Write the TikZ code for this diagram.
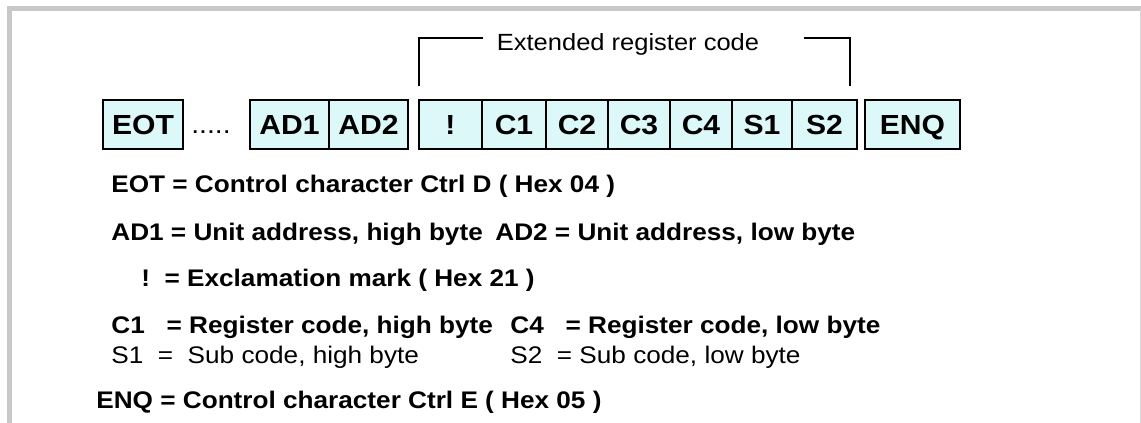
\documentclass[tikz,border=0pt]{standalone}
\usepackage{fontspec}
\setmainfont{Liberation Sans}[FakeStretch=1.09]
\definecolor{cellfill}{RGB}{220,248,248}
\definecolor{framegray}{RGB}{200,200,200}

\begin{document}
\begin{tikzpicture}[x=0.5pt,y=-0.5pt,
        cell/.style={rectangle,draw,line width=1pt,fill=cellfill,minimum height=24.5pt,inner sep=0pt,text height=9.9pt,text depth=0pt,font=\fontsize{13.8}{15}\selectfont\bfseries},
        legend/.style={anchor=base west,inner sep=0pt,font=\fontsize{12}{14}\selectfont\bfseries},
        legendreg/.style={anchor=base west,inner sep=0pt,font=\fontsize{12}{14}\selectfont},
        bracket/.style={draw,line width=0.9pt}]
        \useasboundingbox (0,0) rectangle (1141,423);
        \draw [framegray,line width=2.5pt] (9,423) -- (9,8.5) -- (1141,8.5);
        \draw [framegray!70,line width=0.5pt] (1140,8.5) -- (1140,423);

        \draw (143,124.5) node (eot) [cell,minimum width=40pt] {EOT};
        \draw (211,133) node (dots) [anchor=base,inner sep=0pt,font=\fontsize{13}{15}\selectfont] {.....};
        \draw (289.5,124.5) node (ad1) [cell,minimum width=39.5pt] {AD1};
        \draw (368.5,124.5) node (ad2) [cell,minimum width=39.5pt] {AD2};
        \draw (450.5,124.5) node (excl) [cell,minimum width=31.5pt] {!};
        \draw (514,124.5) node (c1) [cell,minimum width=32pt] {C1};
        \draw (577,124.5) node (c2) [cell,minimum width=31pt] {C2};
        \draw (639,124.5) node (c3) [cell,minimum width=31pt] {C3};
        \draw (701,124.5) node (c4) [cell,minimum width=31pt] {C4};
        \draw (762,124.5) node (s1) [cell,minimum width=30pt] {S1};
        \draw (824.5,124.5) node (s2) [cell,minimum width=32.5pt] {S2};
        \draw (912.5,124.5) node (enq) [cell,minimum width=47.5pt] {ENQ};

        \draw (628,50) node (ext) [anchor=base,inner sep=0pt,font=\fontsize{11.7}{14}\selectfont] {Extended register code};
        \coordinate (extL) at (419,86);
        \coordinate (extLt) at (483,38);
        \coordinate (extRt) at (804,38);
        \coordinate (extR) at (850,86);
        \draw [bracket] (extL) |- (extLt);
        \draw [bracket] (extRt) -| (extR);

        \draw (111,192) node (eotdef) [legend] {EOT = Control character Ctrl D ( Hex 04 )};
        \draw (111,240) node (adhi) [legend] {AD1 = Unit address, high byte};
        \draw (495,240) node (adlo) [legend] {AD2 = Unit address, low byte};
        \draw (141,286) node (excldef) [legend] {!\ \ = Exclamation mark ( Hex 21 )};
        \draw (111,333) node (chi) [legend] {C1\ \ \ = Register code, high byte};
        \draw (510,333) node (clo) [legend] {C4\ \ \ = Register code, low byte};
        \draw (111,363) node (shi) [legendreg] {S1\ \ =\ \ Sub code, high byte};
        \draw (510,363) node (slo) [legendreg] {S2\ \ = Sub code, low byte};
        \draw (96,408) node (enqdef) [legend] {ENQ = Control character Ctrl E ( Hex 05 )};
    \end{tikzpicture}
\end{document}
